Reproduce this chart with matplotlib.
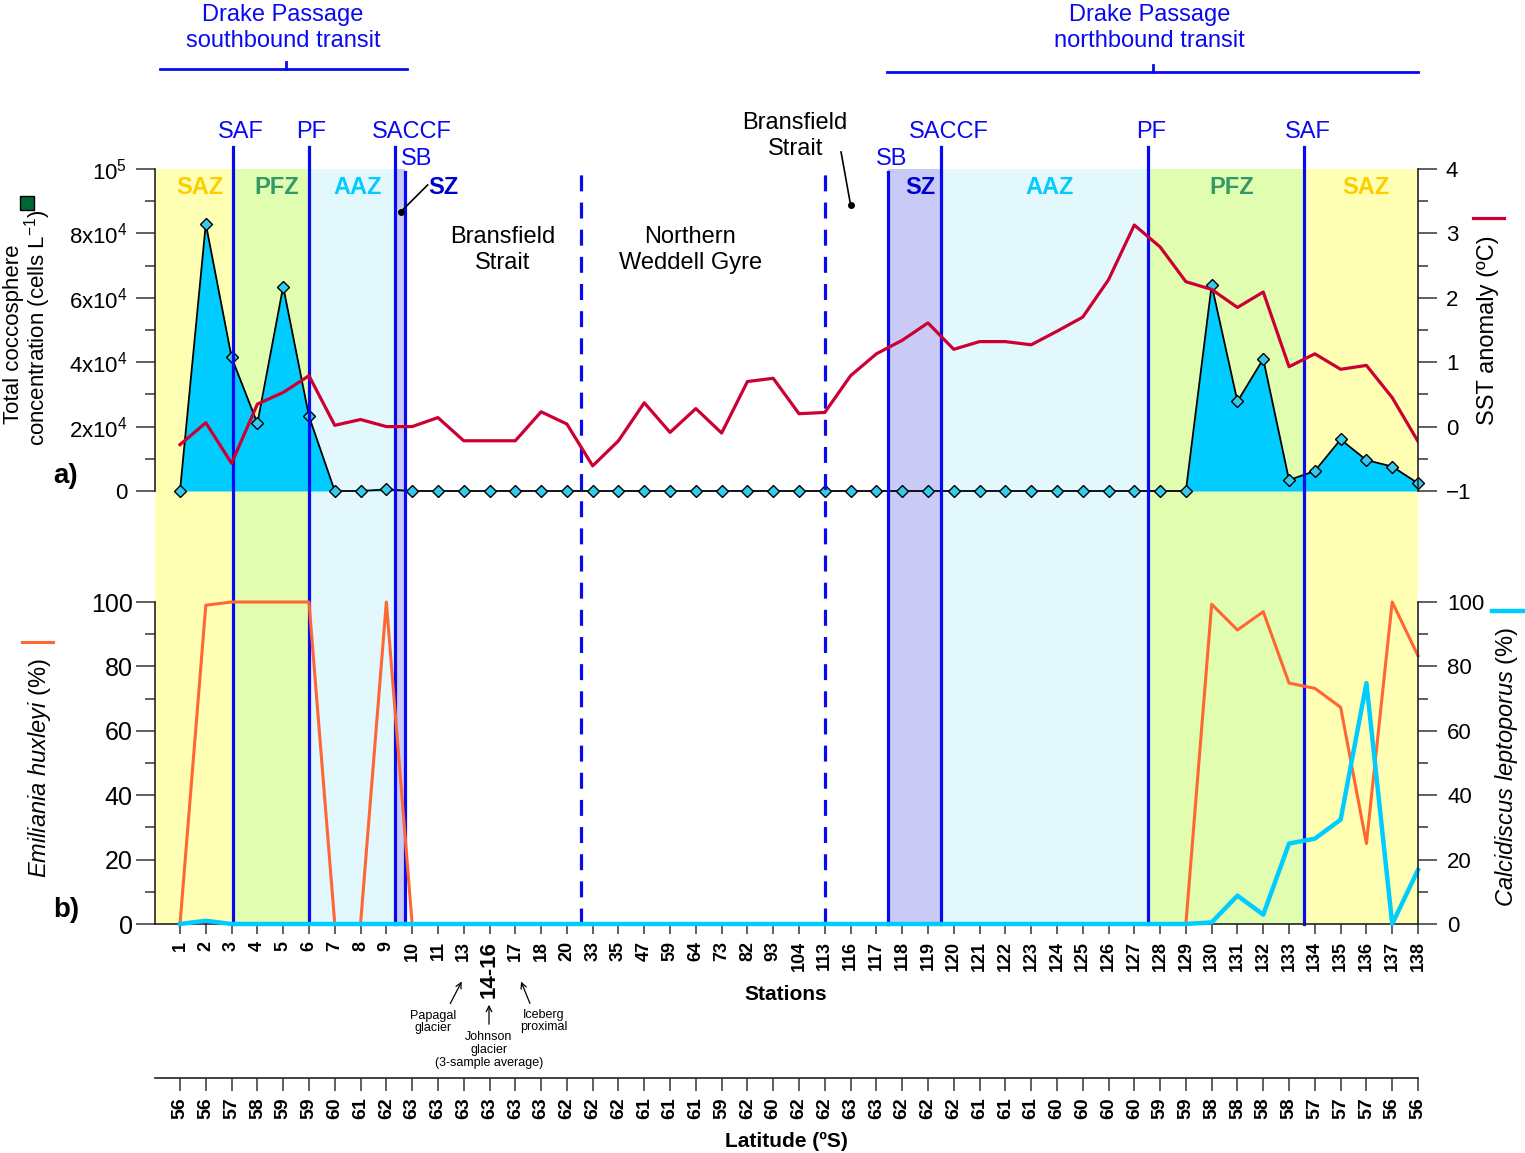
import matplotlib
matplotlib.use("Agg")
import matplotlib.pyplot as plt
from matplotlib.lines import Line2D
from matplotlib.ticker import MultipleLocator

plt.rcParams['font.family'] = ['Liberation Sans', 'DejaVu Sans']
plt.rcParams['mathtext.fontset'] = 'custom'
plt.rcParams['mathtext.rm'] = 'Liberation Sans'
plt.rcParams['mathtext.it'] = 'Liberation Sans:italic'
plt.rcParams['mathtext.bf'] = 'Liberation Sans:bold'

# ---- data ----
stations = ['1', '2', '3', '4', '5', '6', '7', '8', '9', '10', '11', '13', '14-16', '17', '18', '20',
            '33', '35', '47', '59', '64', '73', '82', '93', '104', '113', '116', '117', '118', '119',
            '120', '121', '122', '123', '124', '125', '126', '127', '128', '129', '130', '131', '132',
            '133', '134', '135', '136', '137', '138']
latitude = [56, 56, 57, 58, 59, 59, 60, 61, 62, 63, 63, 63, 63, 63, 63, 62, 62, 62, 61, 61, 61, 59,
            62, 60, 62, 62, 63, 63, 62, 62, 62, 61, 61, 61, 60, 60, 60, 60, 59, 59, 58, 58, 58, 58,
            57, 57, 57, 56, 56]
# total coccosphere concentration (cells/L)
cocco = [0, 83000, 41500, 21000, 63500, 23200, 0, 0, 500, 0,
         0, 0, 0, 0, 0, 0,
         0, 0, 0, 0, 0, 0, 0, 0, 0, 0,
         0, 0, 0, 0, 0, 0, 0, 0, 0, 0, 0, 0, 0, 0,
         64000, 27800, 41000, 3400, 6200, 16000, 9600, 7600, 2400]
# SST anomaly (degC)
sst = [-0.28, 0.06, -0.57, 0.35, 0.53, 0.79, 0.02, 0.11, 0.0, 0.0,
       0.14, -0.22, -0.22, -0.22, 0.23, 0.04,
       -0.61, -0.22, 0.37, -0.09, 0.28, -0.10, 0.70, 0.75, 0.20, 0.22,
       0.79, 1.13, 1.34, 1.61, 1.20, 1.32, 1.32, 1.27, 1.48, 1.70, 2.28, 3.13, 2.79, 2.25,
       2.13, 1.85, 2.09, 0.93, 1.13, 0.89, 0.95, 0.45, -0.23]
# Emiliania huxleyi (%)
ehux = [0, 99, 100, 100, 100, 100, 0, 0, 100, 0] + [0] * 30 + \
       [99.3, 91.3, 97, 74.8, 73.2, 67.3, 25, 100, 83.3]
# Calcidiscus leptoporus (%)
calci = [0, 1, 0, 0, 0, 0, 0, 0, 0, 0] + [0] * 30 + \
        [0.5, 8.8, 2.9, 25, 26.5, 32.4, 74.8, 0, 16.8]

front_names = ['SAF', 'PF', 'SACCF', 'SB', 'SB', 'SACCF', 'PF', 'SAF']
front_pos = [2.07, 5.02, 8.33, 8.73, 27.45, 29.52, 37.55, 43.57]
region_bounds = [15.55, 25.0]
zone_names = ['SAZ', 'PFZ', 'AAZ', 'SZ', 'SZ', 'AAZ', 'PFZ', 'SAZ']

zone_fill = {'SAZ': '#FFFFB3', 'PFZ': '#E0FDB0', 'AAZ': '#E2F8FC', 'SZ': '#CACAF7'}
zone_text = {'SAZ': '#FFCC00', 'PFZ': '#339966', 'AAZ': '#00CCFF', 'SZ': '#0000CC'}
BLUE = '#0A0AEE'

W, H = 1525, 1153
L, R = 155, 1418


def rect(top, bot):
    return [L / W, 1 - bot / H, (R - L) / W, (bot - top) / H]


fig = plt.figure(figsize=(W / 100, H / 100), dpi=100)
xs = list(range(len(stations)))
x0, x1 = -0.97, len(stations) - 1

# background zones
ax_bg = fig.add_axes(rect(169, 924))
ax_bg.set_xlim(x0, x1)
ax_bg.set_ylim(924, 169)
ax_bg.axis('off')
ax_bg.set_zorder(0)
starts = [x0] + front_pos[:3] + front_pos[4:]
ends = front_pos[:4] + front_pos[5:] + [x1]
for s, e, z in zip(starts, ends, zone_names):
    ax_bg.axvspan(s, e, color=zone_fill[z], lw=0)

# panel a: coccosphere concentration
ax_a = fig.add_axes(rect(169, 491))
ax_a.set_zorder(1)
ax_a.patch.set_visible(False)
ax_a.fill_between(xs, cocco, color='#00CCFF', lw=0)
ax_a.plot(xs, cocco, color='black', lw=1.3, marker='D', ms=6, mfc='#33CCEE', mec='black',
          mew=1.0, clip_on=False)
ax_a.set_xlim(x0, x1)
ax_a.set_ylim(0, 1e5)
ax_a.set_xticks([])
for sp in ['top', 'bottom', 'right']:
    ax_a.spines[sp].set_visible(False)
ax_a.set_yticks([0, 2e4, 4e4, 6e4, 8e4, 1e5])
ax_a.set_yticklabels(['0', '2x10$^4$', '4x10$^4$', '6x10$^4$', '8x10$^4$', '10$^5$'])
ax_a.yaxis.set_minor_locator(MultipleLocator(1e4))

# overlay: fronts and region boundaries
ax_fr = fig.add_axes(rect(169, 924))
ax_fr.set_xlim(x0, x1)
ax_fr.set_ylim(924, 169)
ax_fr.axis('off')
ax_fr.set_zorder(2)
for name, xp in zip(front_names, front_pos):
    top = 172 if name == 'SB' else 147
    ax_fr.plot([xp, xp], [924, top], color=BLUE, lw=2.3, clip_on=False)
for xp in region_bounds:
    ax_fr.plot([xp, xp], [924, 167], color=BLUE, lw=2.3, ls=(0, (5, 3.5)), clip_on=False)

# panel a twin: SST anomaly
ax_s = ax_a.twinx()
ax_s.set_zorder(3)
ax_s.plot(xs, sst, color='#CC0033', lw=2.3)
ax_s.set_ylim(-1, 4)
ax_s.set_xlim(x0, x1)
for sp in ['top', 'bottom', 'left']:
    ax_s.spines[sp].set_visible(False)
ax_s.yaxis.set_major_locator(MultipleLocator(1))
ax_s.yaxis.set_minor_locator(MultipleLocator(0.5))

# panel b
ax_b = fig.add_axes(rect(602, 924))
ax_b.set_zorder(4)
ax_b.patch.set_visible(False)
ax_b.plot(xs, ehux, color='#FF6633', lw=2.2, clip_on=False)
ax_b.set_xlim(x0, x1)
ax_b.set_ylim(0, 100)
ax_b.spines['top'].set_visible(False)
ax_b.spines['right'].set_visible(False)
ax_b.yaxis.set_major_locator(MultipleLocator(20))
ax_b.yaxis.set_minor_locator(MultipleLocator(10))
ax_b.set_xticks(xs)
ax_b.set_xticklabels(stations, rotation=90, fontweight='bold', fontsize=13)
for lab in ax_b.get_xticklabels():
    if lab.get_text() == '14-16':
        lab.set_fontsize(16)

ax_c = ax_b.twinx()
ax_c.set_zorder(5)
ax_c.plot(xs, calci, color='#00CCFF', lw=3.2, clip_on=False)
ax_c.set_ylim(0, 100)
ax_c.set_xlim(x0, x1)
for sp in ['top', 'bottom', 'left']:
    ax_c.spines[sp].set_visible(False)
ax_c.yaxis.set_major_locator(MultipleLocator(20))
ax_c.yaxis.set_minor_locator(MultipleLocator(10))

for ax in [ax_a, ax_s, ax_b, ax_c]:
    for sp in ax.spines.values():
        sp.set_linewidth(1.2)
        sp.set_color('#222222')
    ax.tick_params(axis='y', which='major', length=14, width=1.2, labelsize=16, color='#444444')
    ax.tick_params(axis='y', which='minor', length=7, width=1.2, color='#444444')
ax_a.tick_params(axis='y', which='major', pad=6)
ax_s.tick_params(axis='y', which='major', pad=6)
ax_b.tick_params(axis='y', which='major', pad=2, labelsize=18)
ax_c.tick_params(axis='y', which='major', pad=7)
ax_b.tick_params(axis='x', length=7, width=1.2, pad=5, color='#444444')

# latitude axis
ax_l = fig.add_axes([L / W, 1 - 1078 / H, (R - L) / W, 0.0001])
ax_l.set_xlim(x0, x1)
ax_l.set_yticks([])
for sp in ['top', 'left', 'right']:
    ax_l.spines[sp].set_visible(False)
ax_l.spines['bottom'].set_linewidth(1.2)
ax_l.spines['bottom'].set_color('#222222')
ax_l.set_xticks(xs)
ax_l.set_xticklabels([str(v) for v in latitude], rotation=90, fontweight='bold', fontsize=14)
ax_l.tick_params(axis='x', length=9, width=1.2, pad=5, color='#444444')

# zone labels
mids = [(s + e) / 2 for s, e in zip(starts, ends)]
for i, (z, m) in enumerate(zip(zone_names, mids)):
    if i == 3:
        continue
    ax_fr.text(m + 0.2, 188, z, color=zone_text[z], fontsize=17, fontweight='bold',
               ha='center', va='center')
ax_fr.text(10.2, 187, 'SZ', color=zone_text['SZ'], fontsize=17, fontweight='bold',
           ha='center', va='center')
ax_fr.plot([9.6, 8.55], [185, 212], color='black', lw=1.2)
ax_fr.plot([8.55], [212], 'o', color='black', ms=4)

# front labels
label_dx = [0.27, 0.08, 0.66, 0.45, 0.12, 0.3, 0.1, 0.15]
for name, xp, dx in zip(front_names, front_pos, label_dx):
    yl = 159 if name == 'SB' else 132
    ax_fr.text(xp + dx, yl, name, color=BLUE, fontsize=17, ha='center', va='center')

# region texts
ax_fr.text(12.52, 250, 'Bransfield\nStrait', fontsize=17, ha='center', va='center',
           linespacing=1.2)
ax_fr.text(19.78, 250, 'Northern\nWeddell Gyre', fontsize=17, ha='center', va='center',
           linespacing=1.2)
ax_fr.text(23.85, 136, 'Bransfield\nStrait', fontsize=17, ha='center', va='center',
           linespacing=1.2)
ax_fr.plot([25.63, 26.0], [152, 205], color='black', lw=1.2, clip_on=False)
ax_fr.plot([26.0], [205], 'o', color='black', ms=4)

# Drake Passage transits
ax_fr.text(4.0, 28, 'Drake Passage\nsouthbound transit', color=BLUE, fontsize=17,
           ha='center', va='center', linespacing=1.2)
ax_fr.plot([-0.78, 8.8], [69, 69], color=BLUE, lw=2, clip_on=False)
ax_fr.plot([4.1, 4.1], [62, 69], color=BLUE, lw=2, clip_on=False)
ax_fr.text(37.6, 28, 'Drake Passage\nnorthbound transit', color=BLUE, fontsize=17,
           ha='center', va='center', linespacing=1.2)
ax_fr.plot([27.41, 48], [72, 72], color=BLUE, lw=2, clip_on=False)
ax_fr.plot([37.72, 37.72], [65, 72], color=BLUE, lw=2, clip_on=False)

# axis titles
fig.text(14 / W, 1 - 334 / H, 'Total coccosphere', rotation=90,
         fontsize=16, ha='center', va='center')
fig.text(38 / W, 1 - 328 / H, 'concentration (cells L$^{-1}$)', rotation=90,
         fontsize=16, ha='center', va='center')
fig.add_artist(Line2D([27 / W], [1 - 203 / H], marker='s', ms=10, mfc='#006633', mec='black',
                      mew=1))
fig.text(1488 / W, 1 - 330 / H, 'SST anomaly (ºC)', rotation=90, fontsize=17,
         ha='center', va='center')
fig.add_artist(Line2D([1473 / W, 1504 / W], [1 - 218 / H] * 2, color='#CC0033', lw=2.3))
fig.text(40 / W, 1 - 768 / H, r'$\mathit{Emiliania\ huxleyi}$ (%)', rotation=90, fontsize=17,
         ha='center', va='center')
fig.add_artist(Line2D([22 / W, 53 / W], [1 - 642 / H] * 2, color='#FF6633', lw=2.2))
fig.text(1507 / W, 1 - 767 / H, r'$\mathit{Calcidiscus\ leptoporus}$ (%)', rotation=90,
         fontsize=17, ha='center', va='center')
fig.add_artist(Line2D([1492 / W, 1523 / W], [1 - 611 / H] * 2, color='#00CCFF', lw=3.2))

fig.text(66 / W, 1 - 476 / H, 'a)', fontsize=20, fontweight='bold', ha='center', va='center')
fig.text(66 / W, 1 - 910 / H, 'b)', fontsize=20, fontweight='bold', ha='center', va='center')
fig.text(786 / W, 1 - 995 / H, 'Stations', fontsize=15, fontweight='bold', ha='center',
         va='center')
fig.text(786 / W, 1 - 1141 / H, 'Latitude (ºS)', fontsize=15, fontweight='bold', ha='center',
         va='center')

# sample notes under the station axis
notes = [('Papagal\nglacier', (433, 1022), (449, 1006), (463, 979)),
         ('Johnson\nglacier\n(3-sample average)', (489, 1050), (489, 1027), (489, 1002)),
         ('Iceberg\nproximal', (544, 1021), (531, 1006), (520, 979))]
for txt, tpos, tail, head in notes:
    fig.text(tpos[0] / W, 1 - tpos[1] / H, txt, fontsize=9, ha='center',
             va='center', linespacing=1.1)
    ax_b.annotate('', xy=(head[0] / W, 1 - head[1] / H), xycoords='figure fraction',
                  xytext=(tail[0] / W, 1 - tail[1] / H), textcoords='figure fraction',
                  arrowprops=dict(arrowstyle='->', lw=0.9, color='black'))

fig.savefig('out.png', dpi=100)
